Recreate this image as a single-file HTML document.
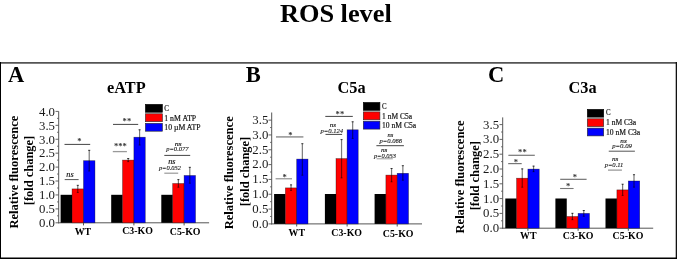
<!DOCTYPE html>
<html lang="en"><head><meta charset="utf-8"><title>ROS level</title>
<style>
html,body{margin:0;padding:0;background:#fff;}
body{width:677px;height:259px;overflow:hidden;}
svg{display:block;font-family:"Liberation Serif", "DejaVu Serif", serif;}
</style></head><body>
<svg width="677" height="259" viewBox="0 0 677 259">
<rect x="0" y="0" width="677" height="259" fill="#fff"/>
<line x1="58.70" y1="111.40" x2="58.70" y2="223.30" stroke="#555" stroke-width="1"/>
<line x1="58.20" y1="222.80" x2="209.10" y2="222.80" stroke="#555" stroke-width="1"/>
<line x1="55.50" y1="222.80" x2="58.70" y2="222.80" stroke="#555" stroke-width="0.9"/>
<text x="55.00" y="227.05" font-size="12.8" font-weight="normal" font-style="normal" text-anchor="end" fill="#1a1a1a">0.0</text>
<line x1="57.00" y1="215.84" x2="58.70" y2="215.84" stroke="#555" stroke-width="0.8"/>
<line x1="55.50" y1="208.88" x2="58.70" y2="208.88" stroke="#555" stroke-width="0.9"/>
<text x="55.00" y="213.12" font-size="12.8" font-weight="normal" font-style="normal" text-anchor="end" fill="#1a1a1a">0.5</text>
<line x1="57.00" y1="201.91" x2="58.70" y2="201.91" stroke="#555" stroke-width="0.8"/>
<line x1="55.50" y1="194.95" x2="58.70" y2="194.95" stroke="#555" stroke-width="0.9"/>
<text x="55.00" y="199.20" font-size="12.8" font-weight="normal" font-style="normal" text-anchor="end" fill="#1a1a1a">1.0</text>
<line x1="57.00" y1="187.99" x2="58.70" y2="187.99" stroke="#555" stroke-width="0.8"/>
<line x1="55.50" y1="181.03" x2="58.70" y2="181.03" stroke="#555" stroke-width="0.9"/>
<text x="55.00" y="185.28" font-size="12.8" font-weight="normal" font-style="normal" text-anchor="end" fill="#1a1a1a">1.5</text>
<line x1="57.00" y1="174.06" x2="58.70" y2="174.06" stroke="#555" stroke-width="0.8"/>
<line x1="55.50" y1="167.10" x2="58.70" y2="167.10" stroke="#555" stroke-width="0.9"/>
<text x="55.00" y="171.35" font-size="12.8" font-weight="normal" font-style="normal" text-anchor="end" fill="#1a1a1a">2.0</text>
<line x1="57.00" y1="160.14" x2="58.70" y2="160.14" stroke="#555" stroke-width="0.8"/>
<line x1="55.50" y1="153.18" x2="58.70" y2="153.18" stroke="#555" stroke-width="0.9"/>
<text x="55.00" y="157.43" font-size="12.8" font-weight="normal" font-style="normal" text-anchor="end" fill="#1a1a1a">2.5</text>
<line x1="57.00" y1="146.21" x2="58.70" y2="146.21" stroke="#555" stroke-width="0.8"/>
<line x1="55.50" y1="139.25" x2="58.70" y2="139.25" stroke="#555" stroke-width="0.9"/>
<text x="55.00" y="143.50" font-size="12.8" font-weight="normal" font-style="normal" text-anchor="end" fill="#1a1a1a">3.0</text>
<line x1="57.00" y1="132.29" x2="58.70" y2="132.29" stroke="#555" stroke-width="0.8"/>
<line x1="55.50" y1="125.33" x2="58.70" y2="125.33" stroke="#555" stroke-width="0.9"/>
<text x="55.00" y="129.57" font-size="12.8" font-weight="normal" font-style="normal" text-anchor="end" fill="#1a1a1a">3.5</text>
<line x1="57.00" y1="118.36" x2="58.70" y2="118.36" stroke="#555" stroke-width="0.8"/>
<line x1="55.50" y1="111.40" x2="58.70" y2="111.40" stroke="#555" stroke-width="0.9"/>
<text x="55.00" y="115.65" font-size="12.8" font-weight="normal" font-style="normal" text-anchor="end" fill="#1a1a1a">4.0</text>
<rect x="60.60" y="194.80" width="11.45" height="28.00" fill="#000"/>
<rect x="72.05" y="188.90" width="11.45" height="33.90" fill="#ff0000" stroke="rgba(0,0,0,0.55)" stroke-width="0.6"/>
<line x1="77.77" y1="185.00" x2="77.77" y2="192.80" stroke="rgba(0,0,0,0.52)" stroke-width="1.2"/>
<line x1="76.72" y1="185.30" x2="78.82" y2="185.30" stroke="rgba(0,0,0,0.7)" stroke-width="1"/>
<line x1="76.72" y1="192.50" x2="78.82" y2="192.50" stroke="rgba(0,0,0,0.4)" stroke-width="1"/>
<rect x="83.50" y="160.70" width="11.45" height="62.10" fill="#0000ff" stroke="rgba(0,0,0,0.55)" stroke-width="0.6"/>
<line x1="89.22" y1="150.00" x2="89.22" y2="171.30" stroke="rgba(0,0,0,0.52)" stroke-width="1.2"/>
<line x1="88.17" y1="150.30" x2="90.27" y2="150.30" stroke="rgba(0,0,0,0.7)" stroke-width="1"/>
<line x1="88.17" y1="171.00" x2="90.27" y2="171.00" stroke="rgba(0,0,0,0.4)" stroke-width="1"/>
<line x1="83.50" y1="222.80" x2="83.50" y2="225.40" stroke="#555" stroke-width="1"/>
<text x="74.70" y="234.60" font-size="9.9" font-weight="bold" font-style="normal" text-anchor="start" fill="#000">WT</text>
<rect x="111.20" y="194.80" width="11.35" height="28.00" fill="#000"/>
<rect x="122.55" y="160.10" width="11.35" height="62.70" fill="#ff0000" stroke="rgba(0,0,0,0.55)" stroke-width="0.6"/>
<line x1="128.22" y1="158.20" x2="128.22" y2="162.00" stroke="rgba(0,0,0,0.52)" stroke-width="1.2"/>
<line x1="127.17" y1="158.50" x2="129.28" y2="158.50" stroke="rgba(0,0,0,0.7)" stroke-width="1"/>
<line x1="127.17" y1="161.70" x2="129.28" y2="161.70" stroke="rgba(0,0,0,0.4)" stroke-width="1"/>
<rect x="133.90" y="137.20" width="11.35" height="85.60" fill="#0000ff" stroke="rgba(0,0,0,0.55)" stroke-width="0.6"/>
<line x1="139.58" y1="129.50" x2="139.58" y2="145.30" stroke="rgba(0,0,0,0.52)" stroke-width="1.2"/>
<line x1="138.53" y1="129.80" x2="140.63" y2="129.80" stroke="rgba(0,0,0,0.7)" stroke-width="1"/>
<line x1="138.53" y1="145.00" x2="140.63" y2="145.00" stroke="rgba(0,0,0,0.4)" stroke-width="1"/>
<line x1="133.90" y1="222.80" x2="133.90" y2="225.40" stroke="#555" stroke-width="1"/>
<text x="122.20" y="234.00" font-size="9.9" font-weight="bold" font-style="normal" text-anchor="start" fill="#000">C3-KO</text>
<rect x="161.30" y="194.80" width="11.40" height="28.00" fill="#000"/>
<rect x="172.70" y="183.50" width="11.40" height="39.30" fill="#ff0000" stroke="rgba(0,0,0,0.55)" stroke-width="0.6"/>
<line x1="178.40" y1="179.30" x2="178.40" y2="187.50" stroke="rgba(0,0,0,0.52)" stroke-width="1.2"/>
<line x1="177.35" y1="179.60" x2="179.45" y2="179.60" stroke="rgba(0,0,0,0.7)" stroke-width="1"/>
<line x1="177.35" y1="187.20" x2="179.45" y2="187.20" stroke="rgba(0,0,0,0.4)" stroke-width="1"/>
<rect x="184.10" y="175.50" width="11.40" height="47.30" fill="#0000ff" stroke="rgba(0,0,0,0.55)" stroke-width="0.6"/>
<line x1="189.80" y1="167.00" x2="189.80" y2="183.50" stroke="rgba(0,0,0,0.52)" stroke-width="1.2"/>
<line x1="188.75" y1="167.30" x2="190.85" y2="167.30" stroke="rgba(0,0,0,0.7)" stroke-width="1"/>
<line x1="188.75" y1="183.20" x2="190.85" y2="183.20" stroke="rgba(0,0,0,0.4)" stroke-width="1"/>
<line x1="184.10" y1="222.80" x2="184.10" y2="225.40" stroke="#555" stroke-width="1"/>
<text x="169.80" y="235.30" font-size="9.9" font-weight="bold" font-style="normal" text-anchor="start" fill="#000">C5-KO</text>
<text transform="translate(17.80,172.10) rotate(-90)" x="-56.50" y="0" font-size="13.3" font-weight="bold" fill="#000" textLength="113.00" lengthAdjust="spacingAndGlyphs">Relative fluorescence</text>
<text transform="translate(33.40,170.50) rotate(-90)" x="-34.65" y="0" font-size="13.3" font-weight="bold" fill="#000" textLength="69.30" lengthAdjust="spacingAndGlyphs">[fold change]</text>
<rect x="145.40" y="104.35" width="17.00" height="7.90" fill="#000" stroke="#000" stroke-width="0.6"/>
<text x="164.30" y="110.90" font-size="7.4" font-weight="normal" font-style="normal" text-anchor="start" fill="#111" stroke="#111" stroke-width="0.18" textLength="4.70" lengthAdjust="spacingAndGlyphs">C</text>
<rect x="145.40" y="113.80" width="17.00" height="7.90" fill="#ff0000" stroke="#2a2a2a" stroke-width="0.6"/>
<text x="164.30" y="120.50" font-size="7.4" font-weight="normal" font-style="normal" text-anchor="start" fill="#111" stroke="#111" stroke-width="0.18" textLength="31.90" lengthAdjust="spacingAndGlyphs">1 nM ATP</text>
<rect x="145.40" y="123.30" width="17.00" height="7.90" fill="#0000ff" stroke="#2a2a2a" stroke-width="0.6"/>
<text x="164.30" y="130.00" font-size="7.4" font-weight="normal" font-style="normal" text-anchor="start" fill="#111" stroke="#111" stroke-width="0.18" textLength="36.30" lengthAdjust="spacingAndGlyphs">10 µM ATP</text>
<text x="7.90" y="81.80" font-size="22.5" font-weight="bold" font-style="normal" text-anchor="start" fill="#000">A</text>
<text x="107.10" y="93.35" font-size="16.3" font-weight="bold" font-style="normal" text-anchor="start" fill="#000">eATP</text>
<line x1="64.50" y1="144.40" x2="90.20" y2="144.40" stroke="#444" stroke-width="1.0"/>
<text x="79.30" y="143.60" font-size="8.6" font-weight="bold" font-style="normal" text-anchor="middle" fill="#333">*</text>
<line x1="64.70" y1="179.60" x2="78.60" y2="179.60" stroke="#555" stroke-width="1.0"/>
<text x="66.30" y="177.05" font-size="8.2" font-weight="normal" font-style="italic" text-anchor="start" fill="#111" stroke="#111" stroke-width="0.15" textLength="7.30" lengthAdjust="spacingAndGlyphs">ns</text>
<line x1="113.00" y1="124.40" x2="138.20" y2="124.40" stroke="#444" stroke-width="1.0"/>
<text x="126.90" y="124.20" font-size="8.6" font-weight="bold" font-style="normal" text-anchor="middle" fill="#333">**</text>
<line x1="112.80" y1="151.60" x2="126.90" y2="151.60" stroke="#999" stroke-width="1.3"/>
<text x="120.40" y="149.30" font-size="8.6" font-weight="bold" font-style="normal" text-anchor="middle" fill="#333">***</text>
<text x="174.70" y="145.70" font-size="7.0" font-weight="normal" font-style="italic" text-anchor="start" fill="#111" stroke="#111" stroke-width="0.15" textLength="7.00" lengthAdjust="spacingAndGlyphs">ns</text>
<text x="166.20" y="150.75" font-size="5.8" font-weight="normal" font-style="italic" text-anchor="start" fill="#222" stroke="#222" stroke-width="0.12" textLength="22.40" lengthAdjust="spacingAndGlyphs">p=0.077</text>
<line x1="164.30" y1="155.40" x2="190.20" y2="155.40" stroke="#444" stroke-width="1.0"/>
<text x="168.20" y="163.70" font-size="7.6" font-weight="normal" font-style="italic" text-anchor="start" fill="#111" stroke="#111" stroke-width="0.15" textLength="7.30" lengthAdjust="spacingAndGlyphs">ns</text>
<text x="158.90" y="169.90" font-size="6.2" font-weight="normal" font-style="italic" text-anchor="start" fill="#222" stroke="#222" stroke-width="0.12" textLength="22.00" lengthAdjust="spacingAndGlyphs">p=0.052</text>
<line x1="164.30" y1="173.20" x2="178.20" y2="173.20" stroke="#999" stroke-width="1.2"/>
<line x1="271.70" y1="112.50" x2="271.70" y2="224.40" stroke="#555" stroke-width="1"/>
<line x1="271.20" y1="223.90" x2="422.00" y2="223.90" stroke="#555" stroke-width="1"/>
<line x1="268.50" y1="223.90" x2="271.70" y2="223.90" stroke="#555" stroke-width="0.9"/>
<text x="268.30" y="227.75" font-size="12.8" font-weight="normal" font-style="normal" text-anchor="end" fill="#1a1a1a">0.0</text>
<line x1="270.00" y1="216.49" x2="271.70" y2="216.49" stroke="#555" stroke-width="0.8"/>
<line x1="268.50" y1="209.08" x2="271.70" y2="209.08" stroke="#555" stroke-width="0.9"/>
<text x="268.30" y="212.93" font-size="12.8" font-weight="normal" font-style="normal" text-anchor="end" fill="#1a1a1a">0.5</text>
<line x1="270.00" y1="201.66" x2="271.70" y2="201.66" stroke="#555" stroke-width="0.8"/>
<line x1="268.50" y1="194.25" x2="271.70" y2="194.25" stroke="#555" stroke-width="0.9"/>
<text x="268.30" y="198.10" font-size="12.8" font-weight="normal" font-style="normal" text-anchor="end" fill="#1a1a1a">1.0</text>
<line x1="270.00" y1="186.84" x2="271.70" y2="186.84" stroke="#555" stroke-width="0.8"/>
<line x1="268.50" y1="179.43" x2="271.70" y2="179.43" stroke="#555" stroke-width="0.9"/>
<text x="268.30" y="183.28" font-size="12.8" font-weight="normal" font-style="normal" text-anchor="end" fill="#1a1a1a">1.5</text>
<line x1="270.00" y1="172.01" x2="271.70" y2="172.01" stroke="#555" stroke-width="0.8"/>
<line x1="268.50" y1="164.60" x2="271.70" y2="164.60" stroke="#555" stroke-width="0.9"/>
<text x="268.30" y="168.45" font-size="12.8" font-weight="normal" font-style="normal" text-anchor="end" fill="#1a1a1a">2.0</text>
<line x1="270.00" y1="157.19" x2="271.70" y2="157.19" stroke="#555" stroke-width="0.8"/>
<line x1="268.50" y1="149.78" x2="271.70" y2="149.78" stroke="#555" stroke-width="0.9"/>
<text x="268.30" y="153.62" font-size="12.8" font-weight="normal" font-style="normal" text-anchor="end" fill="#1a1a1a">2.5</text>
<line x1="270.00" y1="142.36" x2="271.70" y2="142.36" stroke="#555" stroke-width="0.8"/>
<line x1="268.50" y1="134.95" x2="271.70" y2="134.95" stroke="#555" stroke-width="0.9"/>
<text x="268.30" y="138.80" font-size="12.8" font-weight="normal" font-style="normal" text-anchor="end" fill="#1a1a1a">3.0</text>
<line x1="270.00" y1="127.54" x2="271.70" y2="127.54" stroke="#555" stroke-width="0.8"/>
<line x1="268.50" y1="120.13" x2="271.70" y2="120.13" stroke="#555" stroke-width="0.9"/>
<text x="268.30" y="123.98" font-size="12.8" font-weight="normal" font-style="normal" text-anchor="end" fill="#1a1a1a">3.5</text>
<rect x="274.10" y="194.00" width="11.30" height="29.90" fill="#000"/>
<rect x="285.40" y="187.90" width="11.30" height="36.00" fill="#ff0000" stroke="rgba(0,0,0,0.55)" stroke-width="0.6"/>
<line x1="291.05" y1="184.60" x2="291.05" y2="190.80" stroke="rgba(0,0,0,0.52)" stroke-width="1.2"/>
<line x1="290.00" y1="184.90" x2="292.10" y2="184.90" stroke="rgba(0,0,0,0.7)" stroke-width="1"/>
<line x1="290.00" y1="190.50" x2="292.10" y2="190.50" stroke="rgba(0,0,0,0.4)" stroke-width="1"/>
<rect x="296.70" y="159.10" width="11.30" height="64.80" fill="#0000ff" stroke="rgba(0,0,0,0.55)" stroke-width="0.6"/>
<line x1="302.35" y1="143.40" x2="302.35" y2="175.50" stroke="rgba(0,0,0,0.52)" stroke-width="1.2"/>
<line x1="301.30" y1="143.70" x2="303.40" y2="143.70" stroke="rgba(0,0,0,0.7)" stroke-width="1"/>
<line x1="301.30" y1="175.20" x2="303.40" y2="175.20" stroke="rgba(0,0,0,0.4)" stroke-width="1"/>
<line x1="296.70" y1="223.90" x2="296.70" y2="226.50" stroke="#555" stroke-width="1"/>
<text x="288.50" y="236.00" font-size="9.9" font-weight="bold" font-style="normal" text-anchor="start" fill="#000">WT</text>
<rect x="324.90" y="194.00" width="11.10" height="29.90" fill="#000"/>
<rect x="336.00" y="158.60" width="11.10" height="65.30" fill="#ff0000" stroke="rgba(0,0,0,0.55)" stroke-width="0.6"/>
<line x1="341.55" y1="139.30" x2="341.55" y2="178.20" stroke="rgba(0,0,0,0.52)" stroke-width="1.2"/>
<line x1="340.50" y1="139.60" x2="342.60" y2="139.60" stroke="rgba(0,0,0,0.7)" stroke-width="1"/>
<line x1="340.50" y1="177.90" x2="342.60" y2="177.90" stroke="rgba(0,0,0,0.4)" stroke-width="1"/>
<rect x="347.10" y="129.80" width="11.10" height="94.10" fill="#0000ff" stroke="rgba(0,0,0,0.55)" stroke-width="0.6"/>
<line x1="352.65" y1="121.50" x2="352.65" y2="138.70" stroke="rgba(0,0,0,0.52)" stroke-width="1.2"/>
<line x1="351.60" y1="121.80" x2="353.70" y2="121.80" stroke="rgba(0,0,0,0.7)" stroke-width="1"/>
<line x1="351.60" y1="138.40" x2="353.70" y2="138.40" stroke="rgba(0,0,0,0.4)" stroke-width="1"/>
<line x1="347.10" y1="223.90" x2="347.10" y2="226.50" stroke="#555" stroke-width="1"/>
<text x="331.30" y="235.90" font-size="9.9" font-weight="bold" font-style="normal" text-anchor="start" fill="#000">C3-KO</text>
<rect x="374.60" y="194.00" width="11.30" height="29.90" fill="#000"/>
<rect x="385.90" y="175.10" width="11.30" height="48.80" fill="#ff0000" stroke="rgba(0,0,0,0.55)" stroke-width="0.6"/>
<line x1="391.55" y1="168.20" x2="391.55" y2="182.10" stroke="rgba(0,0,0,0.52)" stroke-width="1.2"/>
<line x1="390.50" y1="168.50" x2="392.60" y2="168.50" stroke="rgba(0,0,0,0.7)" stroke-width="1"/>
<line x1="390.50" y1="181.80" x2="392.60" y2="181.80" stroke="rgba(0,0,0,0.4)" stroke-width="1"/>
<rect x="397.20" y="173.30" width="11.30" height="50.60" fill="#0000ff" stroke="rgba(0,0,0,0.55)" stroke-width="0.6"/>
<line x1="402.85" y1="165.40" x2="402.85" y2="180.50" stroke="rgba(0,0,0,0.52)" stroke-width="1.2"/>
<line x1="401.80" y1="165.70" x2="403.90" y2="165.70" stroke="rgba(0,0,0,0.7)" stroke-width="1"/>
<line x1="401.80" y1="180.20" x2="403.90" y2="180.20" stroke="rgba(0,0,0,0.4)" stroke-width="1"/>
<line x1="397.20" y1="223.90" x2="397.20" y2="226.50" stroke="#555" stroke-width="1"/>
<text x="382.80" y="237.10" font-size="9.9" font-weight="bold" font-style="normal" text-anchor="start" fill="#000">C5-KO</text>
<text transform="translate(232.80,172.80) rotate(-90)" x="-56.50" y="0" font-size="13.3" font-weight="bold" fill="#000" textLength="113.00" lengthAdjust="spacingAndGlyphs">Relative fluorescence</text>
<text transform="translate(248.50,171.50) rotate(-90)" x="-34.65" y="0" font-size="13.3" font-weight="bold" fill="#000" textLength="69.30" lengthAdjust="spacingAndGlyphs">[fold change]</text>
<rect x="363.30" y="102.45" width="16.60" height="7.90" fill="#000" stroke="#000" stroke-width="0.6"/>
<text x="382.10" y="108.60" font-size="7.4" font-weight="normal" font-style="normal" text-anchor="start" fill="#111" stroke="#111" stroke-width="0.18" textLength="4.60" lengthAdjust="spacingAndGlyphs">C</text>
<rect x="363.30" y="111.90" width="16.60" height="7.90" fill="#ff0000" stroke="#2a2a2a" stroke-width="0.6"/>
<text x="382.10" y="118.50" font-size="7.4" font-weight="normal" font-style="normal" text-anchor="start" fill="#111" stroke="#111" stroke-width="0.18" textLength="29.90" lengthAdjust="spacingAndGlyphs">1 nM C5a</text>
<rect x="363.30" y="121.20" width="16.60" height="7.90" fill="#0000ff" stroke="#2a2a2a" stroke-width="0.6"/>
<text x="382.10" y="128.00" font-size="7.4" font-weight="normal" font-style="normal" text-anchor="start" fill="#111" stroke="#111" stroke-width="0.18" textLength="34.00" lengthAdjust="spacingAndGlyphs">10 nM C5a</text>
<text x="245.80" y="81.80" font-size="22.5" font-weight="bold" font-style="normal" text-anchor="start" fill="#000">B</text>
<text x="337.60" y="93.35" font-size="16.3" font-weight="bold" font-style="normal" text-anchor="start" fill="#000">C5a</text>
<line x1="276.00" y1="136.90" x2="303.40" y2="136.90" stroke="#999" stroke-width="1.6"/>
<text x="290.50" y="137.70" font-size="8.6" font-weight="bold" font-style="normal" text-anchor="middle" fill="#333">*</text>
<line x1="275.60" y1="178.75" x2="292.00" y2="178.75" stroke="#999" stroke-width="1.3"/>
<text x="284.70" y="179.80" font-size="8.6" font-weight="bold" font-style="normal" text-anchor="middle" fill="#333">*</text>
<line x1="325.30" y1="116.40" x2="352.80" y2="116.40" stroke="#444" stroke-width="1.0"/>
<text x="339.90" y="117.40" font-size="8.6" font-weight="bold" font-style="normal" text-anchor="middle" fill="#333">**</text>
<text x="329.70" y="126.50" font-size="6.8" font-weight="normal" font-style="italic" text-anchor="start" fill="#111" stroke="#111" stroke-width="0.15" textLength="6.20" lengthAdjust="spacingAndGlyphs">ns</text>
<text x="320.40" y="132.70" font-size="6.2" font-weight="normal" font-style="italic" text-anchor="start" fill="#222" stroke="#222" stroke-width="0.12" textLength="22.80" lengthAdjust="spacingAndGlyphs">p=0.124</text>
<line x1="325.50" y1="134.40" x2="342.10" y2="134.40" stroke="#444" stroke-width="1.0"/>
<text x="387.60" y="136.70" font-size="6.6" font-weight="normal" font-style="italic" text-anchor="start" fill="#111" stroke="#111" stroke-width="0.15" textLength="5.80" lengthAdjust="spacingAndGlyphs">ns</text>
<text x="379.50" y="142.50" font-size="6.0" font-weight="normal" font-style="italic" text-anchor="start" fill="#222" stroke="#222" stroke-width="0.12" textLength="22.60" lengthAdjust="spacingAndGlyphs">p=0.066</text>
<line x1="376.40" y1="145.70" x2="403.90" y2="145.70" stroke="#444" stroke-width="1.0"/>
<text x="381.00" y="151.70" font-size="6.8" font-weight="normal" font-style="italic" text-anchor="start" fill="#111" stroke="#111" stroke-width="0.15" textLength="6.40" lengthAdjust="spacingAndGlyphs">ns</text>
<text x="373.90" y="158.30" font-size="6.2" font-weight="normal" font-style="italic" text-anchor="start" fill="#222" stroke="#222" stroke-width="0.12" textLength="22.00" lengthAdjust="spacingAndGlyphs">p=0.053</text>
<line x1="376.60" y1="158.80" x2="392.80" y2="158.80" stroke="#999" stroke-width="1.0"/>
<line x1="502.70" y1="117.40" x2="502.70" y2="228.70" stroke="#555" stroke-width="1"/>
<line x1="502.20" y1="228.20" x2="653.20" y2="228.20" stroke="#555" stroke-width="1"/>
<line x1="499.50" y1="228.20" x2="502.70" y2="228.20" stroke="#555" stroke-width="0.9"/>
<text x="499.10" y="232.15" font-size="12.8" font-weight="normal" font-style="normal" text-anchor="end" fill="#1a1a1a">0.0</text>
<line x1="501.00" y1="220.80" x2="502.70" y2="220.80" stroke="#555" stroke-width="0.8"/>
<line x1="499.50" y1="213.40" x2="502.70" y2="213.40" stroke="#555" stroke-width="0.9"/>
<text x="499.10" y="217.35" font-size="12.8" font-weight="normal" font-style="normal" text-anchor="end" fill="#1a1a1a">0.5</text>
<line x1="501.00" y1="206.00" x2="502.70" y2="206.00" stroke="#555" stroke-width="0.8"/>
<line x1="499.50" y1="198.60" x2="502.70" y2="198.60" stroke="#555" stroke-width="0.9"/>
<text x="499.10" y="202.55" font-size="12.8" font-weight="normal" font-style="normal" text-anchor="end" fill="#1a1a1a">1.0</text>
<line x1="501.00" y1="191.20" x2="502.70" y2="191.20" stroke="#555" stroke-width="0.8"/>
<line x1="499.50" y1="183.80" x2="502.70" y2="183.80" stroke="#555" stroke-width="0.9"/>
<text x="499.10" y="187.75" font-size="12.8" font-weight="normal" font-style="normal" text-anchor="end" fill="#1a1a1a">1.5</text>
<line x1="501.00" y1="176.40" x2="502.70" y2="176.40" stroke="#555" stroke-width="0.8"/>
<line x1="499.50" y1="169.00" x2="502.70" y2="169.00" stroke="#555" stroke-width="0.9"/>
<text x="499.10" y="172.95" font-size="12.8" font-weight="normal" font-style="normal" text-anchor="end" fill="#1a1a1a">2.0</text>
<line x1="501.00" y1="161.60" x2="502.70" y2="161.60" stroke="#555" stroke-width="0.8"/>
<line x1="499.50" y1="154.20" x2="502.70" y2="154.20" stroke="#555" stroke-width="0.9"/>
<text x="499.10" y="158.15" font-size="12.8" font-weight="normal" font-style="normal" text-anchor="end" fill="#1a1a1a">2.5</text>
<line x1="501.00" y1="146.80" x2="502.70" y2="146.80" stroke="#555" stroke-width="0.8"/>
<line x1="499.50" y1="139.40" x2="502.70" y2="139.40" stroke="#555" stroke-width="0.9"/>
<text x="499.10" y="143.35" font-size="12.8" font-weight="normal" font-style="normal" text-anchor="end" fill="#1a1a1a">3.0</text>
<line x1="501.00" y1="132.00" x2="502.70" y2="132.00" stroke="#555" stroke-width="0.8"/>
<line x1="499.50" y1="124.60" x2="502.70" y2="124.60" stroke="#555" stroke-width="0.9"/>
<text x="499.10" y="128.55" font-size="12.8" font-weight="normal" font-style="normal" text-anchor="end" fill="#1a1a1a">3.5</text>
<rect x="505.30" y="198.50" width="11.30" height="29.70" fill="#000"/>
<rect x="516.60" y="178.20" width="11.30" height="50.00" fill="#ff0000" stroke="rgba(0,0,0,0.55)" stroke-width="0.6"/>
<line x1="522.25" y1="168.60" x2="522.25" y2="187.50" stroke="rgba(0,0,0,0.52)" stroke-width="1.2"/>
<line x1="521.20" y1="168.90" x2="523.30" y2="168.90" stroke="rgba(0,0,0,0.7)" stroke-width="1"/>
<line x1="521.20" y1="187.20" x2="523.30" y2="187.20" stroke="rgba(0,0,0,0.4)" stroke-width="1"/>
<rect x="527.90" y="169.10" width="11.30" height="59.10" fill="#0000ff" stroke="rgba(0,0,0,0.55)" stroke-width="0.6"/>
<line x1="533.55" y1="165.80" x2="533.55" y2="172.00" stroke="rgba(0,0,0,0.52)" stroke-width="1.2"/>
<line x1="532.50" y1="166.10" x2="534.60" y2="166.10" stroke="rgba(0,0,0,0.7)" stroke-width="1"/>
<line x1="532.50" y1="171.70" x2="534.60" y2="171.70" stroke="rgba(0,0,0,0.4)" stroke-width="1"/>
<line x1="527.90" y1="228.20" x2="527.90" y2="230.80" stroke="#555" stroke-width="1"/>
<text x="520.10" y="238.70" font-size="9.9" font-weight="bold" font-style="normal" text-anchor="start" fill="#000">WT</text>
<rect x="555.40" y="198.50" width="11.35" height="29.70" fill="#000"/>
<rect x="566.75" y="216.50" width="11.35" height="11.70" fill="#ff0000" stroke="rgba(0,0,0,0.55)" stroke-width="0.6"/>
<line x1="572.42" y1="213.00" x2="572.42" y2="220.00" stroke="rgba(0,0,0,0.52)" stroke-width="1.2"/>
<line x1="571.38" y1="213.30" x2="573.47" y2="213.30" stroke="rgba(0,0,0,0.7)" stroke-width="1"/>
<line x1="571.38" y1="219.70" x2="573.47" y2="219.70" stroke="rgba(0,0,0,0.4)" stroke-width="1"/>
<rect x="578.10" y="213.40" width="11.35" height="14.80" fill="#0000ff" stroke="rgba(0,0,0,0.55)" stroke-width="0.6"/>
<line x1="583.77" y1="210.20" x2="583.77" y2="216.60" stroke="rgba(0,0,0,0.52)" stroke-width="1.2"/>
<line x1="582.73" y1="210.50" x2="584.82" y2="210.50" stroke="rgba(0,0,0,0.7)" stroke-width="1"/>
<line x1="582.73" y1="216.30" x2="584.82" y2="216.30" stroke="rgba(0,0,0,0.4)" stroke-width="1"/>
<line x1="578.10" y1="228.20" x2="578.10" y2="230.80" stroke="#555" stroke-width="1"/>
<text x="562.80" y="239.00" font-size="9.9" font-weight="bold" font-style="normal" text-anchor="start" fill="#000">C3-KO</text>
<rect x="605.50" y="198.50" width="11.40" height="29.70" fill="#000"/>
<rect x="616.90" y="189.90" width="11.40" height="38.30" fill="#ff0000" stroke="rgba(0,0,0,0.55)" stroke-width="0.6"/>
<line x1="622.60" y1="183.90" x2="622.60" y2="195.70" stroke="rgba(0,0,0,0.52)" stroke-width="1.2"/>
<line x1="621.55" y1="184.20" x2="623.65" y2="184.20" stroke="rgba(0,0,0,0.7)" stroke-width="1"/>
<line x1="621.55" y1="195.40" x2="623.65" y2="195.40" stroke="rgba(0,0,0,0.4)" stroke-width="1"/>
<rect x="628.30" y="181.00" width="11.40" height="47.20" fill="#0000ff" stroke="rgba(0,0,0,0.55)" stroke-width="0.6"/>
<line x1="634.00" y1="174.40" x2="634.00" y2="187.40" stroke="rgba(0,0,0,0.52)" stroke-width="1.2"/>
<line x1="632.95" y1="174.70" x2="635.05" y2="174.70" stroke="rgba(0,0,0,0.7)" stroke-width="1"/>
<line x1="632.95" y1="187.10" x2="635.05" y2="187.10" stroke="rgba(0,0,0,0.4)" stroke-width="1"/>
<line x1="628.30" y1="228.20" x2="628.30" y2="230.80" stroke="#555" stroke-width="1"/>
<text x="612.60" y="239.00" font-size="9.9" font-weight="bold" font-style="normal" text-anchor="start" fill="#000">C5-KO</text>
<text transform="translate(463.80,177.00) rotate(-90)" x="-56.50" y="0" font-size="13.3" font-weight="bold" fill="#000" textLength="113.00" lengthAdjust="spacingAndGlyphs">Relative fluorescence</text>
<text transform="translate(479.20,175.70) rotate(-90)" x="-34.65" y="0" font-size="13.3" font-weight="bold" fill="#000" textLength="69.30" lengthAdjust="spacingAndGlyphs">[fold change]</text>
<rect x="587.30" y="109.35" width="16.40" height="7.80" fill="#000" stroke="#000" stroke-width="0.6"/>
<text x="606.00" y="115.40" font-size="7.4" font-weight="normal" font-style="normal" text-anchor="start" fill="#111" stroke="#111" stroke-width="0.18" textLength="4.60" lengthAdjust="spacingAndGlyphs">C</text>
<rect x="587.30" y="118.80" width="16.40" height="7.80" fill="#ff0000" stroke="#2a2a2a" stroke-width="0.6"/>
<text x="606.00" y="125.40" font-size="7.4" font-weight="normal" font-style="normal" text-anchor="start" fill="#111" stroke="#111" stroke-width="0.18" textLength="30.20" lengthAdjust="spacingAndGlyphs">1 nM C3a</text>
<rect x="587.30" y="128.10" width="16.40" height="7.80" fill="#0000ff" stroke="#2a2a2a" stroke-width="0.6"/>
<text x="606.00" y="135.00" font-size="7.4" font-weight="normal" font-style="normal" text-anchor="start" fill="#111" stroke="#111" stroke-width="0.18" textLength="34.10" lengthAdjust="spacingAndGlyphs">10 nM C3a</text>
<text x="487.90" y="81.80" font-size="22.5" font-weight="bold" font-style="normal" text-anchor="start" fill="#000">C</text>
<text x="568.50" y="93.35" font-size="16.3" font-weight="bold" font-style="normal" text-anchor="start" fill="#000">C3a</text>
<line x1="508.40" y1="155.30" x2="534.80" y2="155.30" stroke="#777" stroke-width="1.2"/>
<text x="522.40" y="154.90" font-size="8.6" font-weight="bold" font-style="normal" text-anchor="middle" fill="#333">**</text>
<line x1="508.20" y1="163.60" x2="521.70" y2="163.60" stroke="#777" stroke-width="1.2"/>
<text x="515.80" y="164.70" font-size="8.6" font-weight="bold" font-style="normal" text-anchor="middle" fill="#333">*</text>
<line x1="560.20" y1="179.30" x2="586.60" y2="179.30" stroke="#666" stroke-width="1.1"/>
<text x="574.80" y="180.40" font-size="8.6" font-weight="bold" font-style="normal" text-anchor="middle" fill="#333">*</text>
<line x1="560.10" y1="188.50" x2="573.60" y2="188.50" stroke="#777" stroke-width="1.1"/>
<text x="568.20" y="189.10" font-size="8.6" font-weight="bold" font-style="normal" text-anchor="middle" fill="#333">*</text>
<text x="620.30" y="142.80" font-size="6.2" font-weight="normal" font-style="italic" text-anchor="start" fill="#111" stroke="#111" stroke-width="0.15" textLength="6.40" lengthAdjust="spacingAndGlyphs">ns</text>
<text x="612.20" y="147.60" font-size="5.8" font-weight="normal" font-style="italic" text-anchor="start" fill="#222" stroke="#222" stroke-width="0.12" textLength="19.70" lengthAdjust="spacingAndGlyphs">p=0.09</text>
<line x1="608.75" y1="151.20" x2="634.90" y2="151.20" stroke="#555" stroke-width="1.0"/>
<text x="612.00" y="160.80" font-size="6.6" font-weight="normal" font-style="italic" text-anchor="start" fill="#111" stroke="#111" stroke-width="0.15" textLength="6.40" lengthAdjust="spacingAndGlyphs">ns</text>
<text x="604.65" y="167.00" font-size="6.0" font-weight="normal" font-style="italic" text-anchor="start" fill="#222" stroke="#222" stroke-width="0.12" textLength="18.75" lengthAdjust="spacingAndGlyphs">p=0.11</text>
<line x1="608.00" y1="170.10" x2="621.90" y2="170.10" stroke="#888" stroke-width="1.1"/>
<line x1="0" y1="62.95" x2="677" y2="62.95" stroke="#555" stroke-width="1.7"/>
<line x1="0.5" y1="62" x2="0.5" y2="259" stroke="#000" stroke-width="1.0"/>
<line x1="676.4" y1="62" x2="676.4" y2="259" stroke="#111" stroke-width="1.4"/>
<line x1="0" y1="258.3" x2="677" y2="258.3" stroke="#000" stroke-width="1.5"/>
<text x="279.90" y="21.60" font-size="26" font-weight="bold" font-style="normal" text-anchor="start" fill="#000" textLength="111.9" lengthAdjust="spacingAndGlyphs">ROS level</text>
</svg>
</body></html>
